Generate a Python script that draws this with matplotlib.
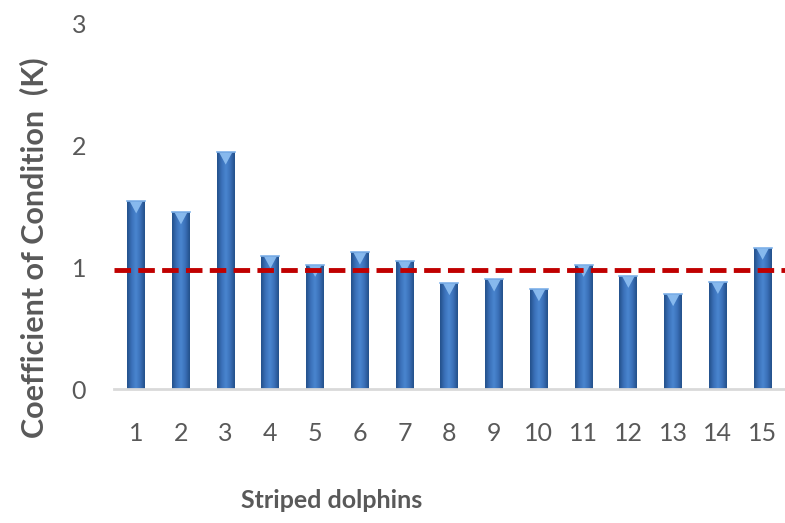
import numpy as np
import matplotlib.pyplot as plt
from matplotlib.colors import LinearSegmentedColormap
from matplotlib.patches import Polygon

dolphins = [str(i) for i in range(1, 16)]
k_values = [1.54, 1.45, 1.94, 1.09, 1.02, 1.12, 1.05, 0.87, 0.90, 0.82,
            1.02, 0.93, 0.78, 0.88, 1.16]
reference_k = 0.98
y_ticks = [0, 1, 2, 3]

plt.rcParams['font.family'] = ['Lato', 'DejaVu Sans']
text_grey = '#595959'

fig = plt.figure(figsize=(7.85, 5.23), dpi=100)
ax = fig.add_axes([0.145, 0.256, 0.855, 0.700])

x = np.arange(len(dolphins))
width = 0.4
bars = ax.bar(x, k_values, width, color='none', edgecolor='none', zorder=2)

# horizontal shading across each bar: dark edges, lighter middle
shade = LinearSegmentedColormap.from_list(
    'barshade', ['#23508a', '#3a70b8', '#4a86d0', '#3a70b8', '#23508a'])
grad = np.linspace(0, 1, 64).reshape(1, -1)
for rect, val in zip(bars, k_values):
    x0 = rect.get_x()
    img = ax.imshow(grad, cmap=shade, aspect='auto', zorder=2,
                    extent=(x0, x0 + width, 0, val), interpolation='bicubic')
    img.set_clip_path(rect)
    # small light bevel at the top of the bar
    tri = Polygon([(x0 + 0.06, val - 0.005), (x0 + width - 0.06, val - 0.005),
                   (x0 + width / 2, val - 0.1)], closed=True,
                  facecolor='#8fc0f2', edgecolor='none', zorder=3, alpha=0.9)
    ax.add_patch(tri)
    ax.plot([x0, x0 + width], [val, val], color='#7fb2ea', lw=1.2, zorder=3)

ax.axhline(reference_k, color='#c00000', lw=3.5, ls=(0, (3.4, 1.5)), zorder=4)

ax.set_xlim(-0.5, len(dolphins) - 0.5)
ax.set_ylim(0, 3)
ax.set_xticks(x)
ax.set_xticklabels(dolphins)
ax.set_yticks(y_ticks)
ax.tick_params(axis='both', length=0, labelsize=18, labelcolor=text_grey)
ax.tick_params(axis='x', pad=24)
ax.tick_params(axis='y', pad=20)

for side in ['top', 'right', 'left']:
    ax.spines[side].set_visible(False)
ax.spines['bottom'].set_color('#d9d9d9')
ax.spines['bottom'].set_linewidth(2)

ax.set_xlabel('Striped dolphins', fontsize=18, fontweight='bold',
              color=text_grey)
ax.xaxis.set_label_coords(0.324, -0.272)
ax.set_ylabel('Coefficient of Condition  (K)', fontsize=22, fontweight='bold',
              color=text_grey)
ax.yaxis.set_label_coords(-0.098, 0.386)

fig.savefig('out.png', dpi=100)
